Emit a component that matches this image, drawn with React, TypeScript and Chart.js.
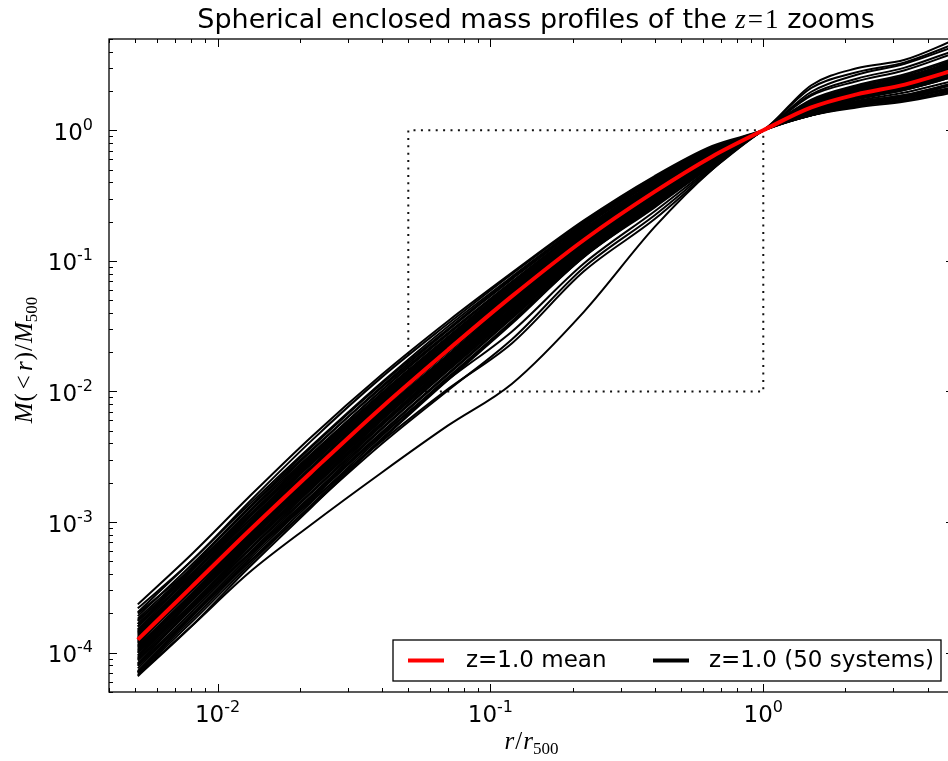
import React, { useEffect, useRef } from 'react';
import { Chart, registerables } from 'chart.js';

Chart.register(...registerables);

const R_GRID = [0.0051, 0.008, 0.013, 0.022, 0.04, 0.07, 0.12, 0.22, 0.4, 0.65, 1, 1.5, 2.2, 3.3, 5];

// log10 of M(<r)/M500 (plotted on a log axis as 10^v)
const LOG_MEAN = [-3.90, -3.50, -3.07, -2.62, -2.12, -1.68, -1.27, -0.84, -0.47, -0.20, 0, 0.175, 0.275, 0.35, 0.46];

const LOG_SYS01 = [-3.63, -3.25, -2.81, -2.35, -1.87, -1.46, -1.09, -0.69, -0.35, -0.12, 0, 0.155, 0.245, 0.32, 0.42];
const LOG_SYS02 = [-3.66, -3.30, -2.85, -2.38, -1.89, -1.48, -1.10, -0.70, -0.36, -0.13, 0, 0.295, 0.425, 0.51, 0.64];
const LOG_SYS03 = [-3.69, -3.30, -2.87, -2.42, -1.93, -1.50, -1.12, -0.71, -0.37, -0.14, 0, 0.125, 0.205, 0.26, 0.35];
const LOG_SYS04 = [-3.72, -3.33, -2.89, -2.43, -1.94, -1.52, -1.13, -0.72, -0.38, -0.14, 0, 0.215, 0.325, 0.40, 0.53];
const LOG_SYS05 = [-3.74, -3.36, -2.92, -2.46, -1.96, -1.53, -1.14, -0.73, -0.39, -0.15, 0, 0.175, 0.265, 0.35, 0.47];
const LOG_SYS06 = [-3.76, -3.37, -2.93, -2.48, -1.99, -1.56, -1.16, -0.74, -0.39, -0.15, 0, 0.345, 0.475, 0.54, 0.69];
const LOG_SYS07 = [-3.78, -3.38, -2.95, -2.49, -1.99, -1.56, -1.17, -0.76, -0.41, -0.16, 0, 0.115, 0.175, 0.22, 0.29];
const LOG_SYS08 = [-3.80, -3.40, -2.96, -2.50, -2.01, -1.58, -1.18, -0.76, -0.41, -0.16, 0, 0.185, 0.285, 0.37, 0.48];
const LOG_SYS09 = [-3.70, -3.36, -2.95, -2.51, -2.02, -1.59, -1.19, -0.77, -0.42, -0.17, 0, 0.225, 0.335, 0.42, 0.54];
const LOG_SYS10 = [-3.82, -3.41, -2.97, -2.52, -2.02, -1.59, -1.19, -0.78, -0.42, -0.17, 0, 0.145, 0.235, 0.31, 0.41];
const LOG_SYS11 = [-3.83, -3.43, -2.99, -2.53, -2.03, -1.60, -1.20, -0.78, -0.43, -0.17, 0, 0.265, 0.375, 0.46, 0.59];
const LOG_SYS12 = [-3.84, -3.44, -3.01, -2.55, -2.05, -1.61, -1.21, -0.79, -0.43, -0.18, 0, 0.195, 0.285, 0.36, 0.46];
const LOG_SYS13 = [-3.85, -3.45, -3.02, -2.56, -2.07, -1.63, -1.22, -0.80, -0.44, -0.18, 0, 0.115, 0.195, 0.25, 0.33];
const LOG_SYS14 = [-3.78, -3.42, -3.02, -2.58, -2.08, -1.64, -1.23, -0.81, -0.44, -0.18, 0, 0.205, 0.315, 0.39, 0.51];
const LOG_SYS15 = [-3.87, -3.46, -3.03, -2.58, -2.08, -1.64, -1.24, -0.81, -0.45, -0.19, 0, 0.165, 0.255, 0.34, 0.44];
const LOG_SYS16 = [-3.88, -3.48, -3.04, -2.59, -2.09, -1.66, -1.25, -0.82, -0.46, -0.19, 0, 0.325, 0.445, 0.52, 0.66];
const LOG_SYS17 = [-3.89, -3.49, -3.06, -2.60, -2.10, -1.66, -1.26, -0.83, -0.46, -0.20, 0, 0.185, 0.275, 0.34, 0.45];
const LOG_SYS18 = [-3.90, -3.50, -3.07, -2.62, -2.11, -1.67, -1.27, -0.84, -0.47, -0.20, 0, 0.135, 0.225, 0.29, 0.38];
const LOG_SYS19 = [-3.91, -3.51, -3.07, -2.62, -2.12, -1.69, -1.28, -0.85, -0.47, -0.20, 0, 0.235, 0.345, 0.43, 0.55];
const LOG_SYS20 = [-3.92, -3.52, -3.09, -2.63, -2.13, -1.69, -1.29, -0.86, -0.48, -0.21, 0, 0.175, 0.285, 0.36, 0.48];
const LOG_SYS21 = [-3.93, -3.53, -3.10, -2.65, -2.14, -1.70, -1.30, -0.87, -0.49, -0.21, 0, 0.155, 0.255, 0.32, 0.43];
const LOG_SYS22 = [-3.84, -3.52, -3.11, -2.66, -2.16, -1.72, -1.31, -0.87, -0.50, -0.22, 0, 0.275, 0.395, 0.48, 0.61];
const LOG_SYS23 = [-3.95, -3.55, -3.12, -2.67, -2.17, -1.73, -1.32, -0.88, -0.50, -0.22, 0, 0.195, 0.305, 0.37, 0.49];
const LOG_SYS24 = [-3.96, -3.56, -3.13, -2.68, -2.18, -1.74, -1.33, -0.89, -0.51, -0.22, 0, 0.125, 0.215, 0.27, 0.36];
const LOG_SYS25 = [-3.98, -3.57, -3.14, -2.69, -2.19, -1.75, -1.34, -0.90, -0.51, -0.23, 0, 0.165, 0.275, 0.36, 0.46];
const LOG_SYS26 = [-3.99, -3.59, -3.15, -2.70, -2.20, -1.76, -1.35, -0.91, -0.52, -0.23, 0, 0.225, 0.325, 0.41, 0.52];
const LOG_SYS27 = [-4.00, -3.60, -3.17, -2.71, -2.21, -1.77, -1.36, -0.92, -0.53, -0.23, 0, 0.145, 0.245, 0.33, 0.43];
const LOG_SYS28 = [-4.02, -3.61, -3.18, -2.73, -2.22, -1.78, -1.37, -0.92, -0.53, -0.24, 0, 0.185, 0.295, 0.37, 0.49];
const LOG_SYS29 = [-4.03, -3.63, -3.19, -2.74, -2.24, -1.79, -1.38, -0.93, -0.54, -0.24, 0, 0.115, 0.185, 0.24, 0.32];
const LOG_SYS30 = [-4.05, -3.64, -3.21, -2.75, -2.25, -1.81, -1.39, -0.93, -0.54, -0.24, 0, 0.215, 0.315, 0.40, 0.51];
const LOG_SYS31 = [-4.06, -3.66, -3.22, -2.77, -2.26, -1.82, -1.40, -0.94, -0.55, -0.25, 0, 0.175, 0.265, 0.33, 0.44];
const LOG_SYS32 = [-4.08, -3.67, -3.24, -2.78, -2.28, -1.83, -1.41, -0.94, -0.55, -0.25, 0, 0.135, 0.245, 0.31, 0.42];
const LOG_SYS33 = [-4.10, -3.69, -3.25, -2.80, -2.29, -1.84, -1.42, -0.95, -0.56, -0.25, 0, 0.205, 0.305, 0.38, 0.50];
const LOG_SYS34 = [-4.12, -3.71, -3.27, -2.81, -2.31, -1.86, -1.43, -0.95, -0.56, -0.26, 0, 0.125, 0.195, 0.23, 0.31];
const LOG_SYS35 = [-4.14, -3.73, -3.29, -2.83, -2.32, -1.87, -1.44, -0.96, -0.57, -0.26, 0, 0.195, 0.295, 0.36, 0.47];
const LOG_SYS36 = [-4.15, -3.75, -3.31, -2.85, -2.34, -1.89, -1.46, -0.96, -0.57, -0.26, 0, 0.195, 0.305, 0.38, 0.49];
const LOG_SYS37 = [-4.16, -3.77, -3.33, -2.87, -2.36, -1.90, -1.47, -0.97, -0.58, -0.27, 0, 0.165, 0.265, 0.35, 0.47];
const LOG_SYS38 = [-4.18, -3.80, -3.35, -2.89, -2.37, -1.91, -1.48, -0.97, -0.59, -0.27, 0, 0.115, 0.185, 0.23, 0.30];
const LOG_SYS39 = [-4.15, -3.72, -3.27, -2.82, -2.33, -1.91, -1.54, -1.02, -0.62, -0.28, 0, 0.155, 0.245, 0.31, 0.41];
const LOG_SYS40 = [-4.10, -3.72, -3.31, -2.88, -2.40, -1.99, -1.60, -1.05, -0.65, -0.29, 0, 0.215, 0.325, 0.40, 0.53];
const LOG_SYS41 = [-4.00, -3.64, -3.25, -2.84, -2.38, -1.98, -1.63, -1.08, -0.68, -0.30, 0, 0.185, 0.295, 0.38, 0.50];
const LOG_SYS42 = [-4.17, -3.80, -3.39, -3.02, -2.62, -2.26, -1.94, -1.39, -0.74, -0.30, 0, 0.125, 0.205, 0.26, 0.35];
const LOG_SYS43 = [-3.80, -3.35, -2.90, -2.45, -1.97, -1.55, -1.16, -0.75, -0.40, -0.16, 0, 0.145, 0.255, 0.33, 0.45];
const LOG_SYS44 = [-3.94, -3.50, -3.05, -2.59, -2.09, -1.65, -1.25, -0.83, -0.46, -0.20, 0, 0.125, 0.215, 0.27, 0.36];
const LOG_SYS45 = [-3.75, -3.40, -2.99, -2.55, -2.06, -1.62, -1.22, -0.79, -0.43, -0.18, 0, 0.185, 0.275, 0.35, 0.45];
const LOG_SYS46 = [-4.04, -3.60, -3.14, -2.68, -2.17, -1.72, -1.31, -0.87, -0.49, -0.21, 0, 0.195, 0.295, 0.37, 0.48];
const LOG_SYS47 = [-3.97, -3.58, -3.16, -2.73, -2.24, -1.80, -1.39, -0.94, -0.54, -0.24, 0, 0.205, 0.315, 0.39, 0.51];
const LOG_SYS48 = [-3.90, -3.47, -3.01, -2.54, -2.04, -1.61, -1.21, -0.80, -0.45, -0.19, 0, 0.165, 0.255, 0.33, 0.44];
const LOG_SYS49 = [-4.09, -3.65, -3.19, -2.72, -2.20, -1.74, -1.32, -0.88, -0.50, -0.22, 0, 0.115, 0.195, 0.25, 0.33];
const LOG_SYS50 = [-3.86, -3.48, -3.07, -2.64, -2.15, -1.72, -1.32, -0.89, -0.51, -0.23, 0, 0.175, 0.275, 0.34, 0.44];

const LOG_SYSTEMS = [
  LOG_SYS01, LOG_SYS02, LOG_SYS03, LOG_SYS04, LOG_SYS05, LOG_SYS06, LOG_SYS07, LOG_SYS08, LOG_SYS09, LOG_SYS10,
  LOG_SYS11, LOG_SYS12, LOG_SYS13, LOG_SYS14, LOG_SYS15, LOG_SYS16, LOG_SYS17, LOG_SYS18, LOG_SYS19, LOG_SYS20,
  LOG_SYS21, LOG_SYS22, LOG_SYS23, LOG_SYS24, LOG_SYS25, LOG_SYS26, LOG_SYS27, LOG_SYS28, LOG_SYS29, LOG_SYS30,
  LOG_SYS31, LOG_SYS32, LOG_SYS33, LOG_SYS34, LOG_SYS35, LOG_SYS36, LOG_SYS37, LOG_SYS38, LOG_SYS39, LOG_SYS40,
  LOG_SYS41, LOG_SYS42, LOG_SYS43, LOG_SYS44, LOG_SYS45, LOG_SYS46, LOG_SYS47, LOG_SYS48, LOG_SYS49, LOG_SYS50,
];

// dotted zoom box corners
const BOX_R = [0.05, 1];
const BOX_M = [0.01, 1];

// axis ranges and tick labels
const X_RANGE = [0.004, 5];
const Y_RANGE = [5e-5, 5];
const X_TICKS = [0.01, 0.1, 1];
const X_TICK_EXP = ['-2', '-1', '0'];
const Y_TICKS = [1e-4, 1e-3, 1e-2, 1e-1, 1];
const Y_TICK_EXP = ['-4', '-3', '-2', '-1', '0'];
const TICK_BASE = '10';

const LEGEND_LABELS = ['z=1.0 mean', 'z=1.0 (50 systems)'];
const MEAN_COLOR = '#ff0000';
const SYSTEM_COLOR = '#000000';

const SANS = '"DejaVu Sans", sans-serif';
const SERIF = '"Liberation Serif", "DejaVu Serif", serif';

type Run = { text: string; font: string; dy?: number; gap?: number };

function runsWidth(ctx: CanvasRenderingContext2D, runs: Run[]) {
  let total = 0;
  for (const r of runs) {
    ctx.font = r.font;
    total += (r.gap || 0) + ctx.measureText(r.text).width;
  }
  return total;
}

function drawRuns(ctx: CanvasRenderingContext2D, runs: Run[], x0: number, baseline: number, align: 'center' | 'right' | 'left') {
  const total = runsWidth(ctx, runs);
  let x = align === 'center' ? x0 - total / 2 : align === 'right' ? x0 - total : x0;
  ctx.textAlign = 'left';
  ctx.textBaseline = 'alphabetic';
  for (const r of runs) {
    ctx.font = r.font;
    x += r.gap || 0;
    ctx.fillText(r.text, x, baseline + (r.dy || 0));
    x += ctx.measureText(r.text).width;
  }
}

const decorPlugin = {
  id: 'decor',
  afterDraw(chart: any) {
    const { ctx, chartArea: a, scales } = chart;
    const xs = scales.x;
    const ys = scales.y;
    ctx.save();
    ctx.fillStyle = '#000';

    // tick marks (inward, all four sides)
    ctx.strokeStyle = '#000';
    ctx.lineWidth = 1;
    ctx.beginPath();
    for (let n = -5; n <= 1; n++) {
      for (let k = 1; k <= 9; k++) {
        const v = k * Math.pow(10, n);
        const len = k === 1 ? 8 : 4;
        if (v >= X_RANGE[0] && v <= X_RANGE[1]) {
          const px = Math.round(xs.getPixelForValue(v)) + 0.5;
          ctx.moveTo(px, a.bottom);
          ctx.lineTo(px, a.bottom - len);
          ctx.moveTo(px, a.top);
          ctx.lineTo(px, a.top + len);
        }
        if (v >= Y_RANGE[0] && v <= Y_RANGE[1]) {
          const py = Math.round(ys.getPixelForValue(v)) + 0.5;
          ctx.moveTo(a.left, py);
          ctx.lineTo(a.left + len, py);
          ctx.moveTo(a.right, py);
          ctx.lineTo(a.right - len, py);
        }
      }
    }
    ctx.stroke();

    // spines
    ctx.lineWidth = 1.3;
    ctx.strokeRect(a.left, a.top, a.right - a.left, a.bottom - a.top);

    // tick labels 10^n
    const bf = '23px ' + SANS;
    const ef = '16px ' + SANS;
    X_TICKS.forEach((v, i) => {
      const px = xs.getPixelForValue(v);
      drawRuns(ctx, [
        { text: TICK_BASE, font: bf },
        { text: X_TICK_EXP[i], font: ef, dy: -10 },
      ], px, 722, 'center');
    });
    Y_TICKS.forEach((v, i) => {
      const py = ys.getPixelForValue(v);
      drawRuns(ctx, [
        { text: TICK_BASE, font: bf },
        { text: Y_TICK_EXP[i], font: ef, dy: -10 },
      ], 93, py + 9.5, 'right');
    });

    // legend
    const bx0 = 393, bx1 = 941, by0 = 640, by1 = 681;
    const cy = (by0 + by1) / 2;
    ctx.fillStyle = '#fff';
    ctx.fillRect(bx0, by0, bx1 - bx0, by1 - by0);
    ctx.lineWidth = 1.3;
    ctx.strokeStyle = '#000';
    ctx.strokeRect(bx0, by0, bx1 - bx0, by1 - by0);
    ctx.lineWidth = 4;
    ctx.strokeStyle = MEAN_COLOR;
    ctx.beginPath();
    ctx.moveTo(408, cy);
    ctx.lineTo(444, cy);
    ctx.stroke();
    ctx.strokeStyle = SYSTEM_COLOR;
    ctx.beginPath();
    ctx.moveTo(653, cy);
    ctx.lineTo(689, cy);
    ctx.stroke();
    ctx.fillStyle = '#000';
    ctx.font = '23px ' + SANS;
    ctx.textAlign = 'left';
    ctx.textBaseline = 'middle';
    ctx.fillText(LEGEND_LABELS[0], 466, cy + 1);
    ctx.fillText(LEGEND_LABELS[1], 709, cy + 1);

    // title
    const tf = '27px ' + SANS;
    const mf = '27px ' + SERIF;
    const mi = 'italic 27px ' + SERIF;
    drawRuns(ctx, [
      { text: 'Spherical enclosed mass profiles of the ', font: tf },
      { text: 'z', font: mi },
      { text: '=', font: mf, gap: 2 },
      { text: '1', font: mf, gap: 2 },
      { text: ' zooms', font: tf },
    ], 536, 28, 'center');

    // x label  r / r_500
    const lf = '25px ' + SERIF;
    const li = 'italic 25px ' + SERIF;
    const sf = '17px ' + SERIF;
    drawRuns(ctx, [
      { text: 'r', font: li },
      { text: '/', font: lf, gap: 1 },
      { text: 'r', font: li, gap: 1 },
      { text: '500', font: sf, dy: 5 },
    ], (a.left + a.right) / 2, 749, 'center');

    // y label  M(<r)/M_500
    ctx.save();
    ctx.translate(32, 360);
    ctx.rotate(-Math.PI / 2);
    drawRuns(ctx, [
      { text: 'M', font: li },
      { text: '(', font: lf, gap: 1 },
      { text: '<', font: lf, gap: 4 },
      { text: 'r', font: li, gap: 4 },
      { text: ')', font: lf, gap: 1 },
      { text: '/', font: lf, gap: 1 },
      { text: 'M', font: li, gap: 1 },
      { text: '500', font: sf, dy: 5 },
    ], 0, 0, 'center');
    ctx.restore();

    ctx.restore();
  },
};

export default function App() {
  const ref = useRef<HTMLCanvasElement | null>(null);

  useEffect(() => {
    const canvas = ref.current;
    if (!canvas) return;

    const toPoints = (logs: number[]) => R_GRID.map((r, j) => ({ x: r, y: Math.pow(10, logs[j]) }));

    const systemSets = LOG_SYSTEMS.map((sys, i) => ({
      label: i === 0 ? LEGEND_LABELS[1] : '',
      data: toPoints(sys),
      borderColor: SYSTEM_COLOR,
      borderWidth: 2,
      pointRadius: 0,
      fill: false,
      cubicInterpolationMode: 'monotone' as const,
    }));

    const boxData = [
      { x: BOX_R[0], y: BOX_M[0] },
      { x: BOX_R[0], y: BOX_M[1] },
      { x: BOX_R[1], y: BOX_M[1] },
      { x: BOX_R[1], y: BOX_M[0] },
      { x: BOX_R[0], y: BOX_M[0] },
    ];

    const chart = new Chart(canvas, {
      type: 'line',
      data: {
        datasets: [
          {
            label: LEGEND_LABELS[0],
            data: toPoints(LOG_MEAN),
            borderColor: MEAN_COLOR,
            borderWidth: 4,
            pointRadius: 0,
            fill: false,
            cubicInterpolationMode: 'monotone',
          },
          ...systemSets,
          {
            label: 'box',
            data: boxData,
            borderColor: '#111',
            borderWidth: 2,
            borderDash: [2, 5.4],
            pointRadius: 0,
            fill: false,
            tension: 0,
          },
        ],
      },
      options: {
        responsive: false,
        animation: false,
        events: [],
        layout: { padding: { top: 39, right: 26, left: 0, bottom: 0 } },
        plugins: {
          legend: { display: false },
          title: { display: false },
          tooltip: { enabled: false },
        },
        scales: {
          x: {
            type: 'logarithmic',
            min: X_RANGE[0],
            max: X_RANGE[1],
            grid: { display: false, drawTicks: false },
            border: { display: false },
            afterBuildTicks: (s: any) => {
              s.ticks = X_TICKS.map((v) => ({ value: v }));
            },
            afterFit: (s: any) => {
              s.height = 69;
            },
            ticks: { display: false },
          },
          y: {
            type: 'logarithmic',
            min: Y_RANGE[0],
            max: Y_RANGE[1],
            grid: { display: false, drawTicks: false },
            border: { display: false },
            afterBuildTicks: (s: any) => {
              s.ticks = Y_TICKS.map((v) => ({ value: v }));
            },
            afterFit: (s: any) => {
              s.width = 109;
            },
            ticks: { display: false },
          },
        },
      },
      plugins: [decorPlugin],
    });

    return () => chart.destroy();
  }, []);

  return (
    <div
      style={{
        position: 'fixed',
        left: 0,
        top: 0,
        width: 948,
        height: 761,
        overflow: 'hidden',
        background: '#fff',
      }}
    >
      <canvas ref={ref} width={980} height={761} style={{ display: 'block', width: 980, height: 761 }} />
    </div>
  );
}
